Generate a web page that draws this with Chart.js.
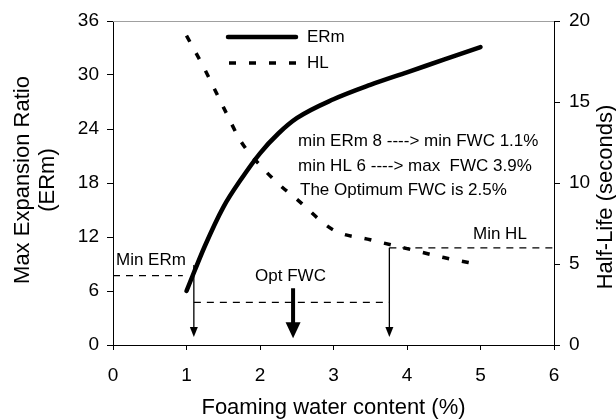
<!DOCTYPE html>
<html>
<head>
<meta charset="utf-8">
<script src="https://cdn.jsdelivr.net/npm/chart.js@4/dist/chart.umd.min.js"></script>
<style>
body { margin: 0; background: #fff; }
</style>
</head>
<body>
<canvas id="myChart" width="616" height="420"></canvas>
<script>
// data
var fwc = [1, 1.25, 1.5, 1.75, 2, 2.25, 2.5, 3, 3.5, 4, 4.5, 5];
var ermValues = [6, 11, 15.3, 18.5, 21.3, 23.5, 25.2, 27.3, 28.9, 30.3, 31.7, 33.1];
var hlValues = [19.1, 17.0, 14.7, 12.5, 11.1, 9.95, 9.0, 7.1, 6.5, 5.95, 5.4, 4.95];

var xTicks = [0, 1, 2, 3, 4, 5, 6];
var ermTicks = [0, 6, 12, 18, 24, 30, 36];
var hlTicks = [0, 5, 10, 15, 20];

// guide lines / arrows
var minErm = 7.7, minErmSpan = [0, 0.95];
var optLevel = 4.74, optSpan = [1.1, 3.76];
var minHl = 6, minHlSpan = [3.76, 6];
var minFwc = 1.1, maxFwc = 3.76, optFwc = 2.45;

var notes = ['min ERm 8 ----> min FWC 1.1%', 'min HL 6 ----> max  FWC 3.9%', 'The Optimum FWC is 2.5%'];

var FONT = '"Liberation Sans", Arial, sans-serif';

function pts(xs, ys) {
    return xs.map(function (x, i) { return { x: x, y: ys[i] }; });
}

function guide(data, axis, width, dash) {
    return {
        data: data, yAxisID: axis, showLine: true, pointRadius: 0,
        borderColor: '#000', backgroundColor: '#000', borderWidth: width,
        borderDash: dash || [], tension: 0
    };
}

function arrowHead(c, x, y, w, h) {
    c.beginPath();
    c.moveTo(x, y);
    c.lineTo(x - w / 2, y - h);
    c.lineTo(x + w / 2, y - h);
    c.closePath();
    c.fill();
}

var extras = {
    id: 'extras',
    afterDatasetsDraw: function (chart) {
        var c = chart.ctx, sx = chart.scales.x, sy = chart.scales.y, sy1 = chart.scales.y1;
        var a = chart.chartArea;
        c.save();
        // grey top frame
        c.strokeStyle = '#a0a0a0';
        c.lineWidth = 1;
        c.beginPath();
        c.moveTo(a.left, a.top + 0.5);
        c.lineTo(a.right, a.top + 0.5);
        c.stroke();

        c.fillStyle = '#000';
        c.strokeStyle = '#000';
        arrowHead(c, sx.getPixelForValue(minFwc), sy.getPixelForValue(0.9), 8, 10);
        arrowHead(c, sx.getPixelForValue(maxFwc), sy.getPixelForValue(0.9), 8, 10);
        arrowHead(c, sx.getPixelForValue(optFwc), sy.getPixelForValue(0.75), 15, 16);

        c.font = '17px ' + FONT;
        c.textBaseline = 'middle';
        c.textAlign = 'left';
        c.fillText('Min ERm', a.left + 3, sy.getPixelForValue(minErm) - 15);
        c.fillText('Opt FWC', sx.getPixelForValue(optFwc) - 38, sy.getPixelForValue(optLevel) - 26);
        c.fillText('Min HL', a.right - 81, sy1.getPixelForValue(minHl) - 13);
        c.fillText(notes[0], 298, 141);
        c.fillText(notes[1], 298, 166);
        c.fillText(notes[2], 300, 190);

        // legend
        c.lineWidth = 4.5;
        c.lineCap = 'round';
        c.beginPath();
        c.moveTo(228, 37);
        c.lineTo(296, 37);
        c.stroke();
        c.lineCap = 'butt';
        c.lineWidth = 3.5;
        c.setLineDash([7, 13]);
        c.beginPath();
        c.moveTo(229, 63);
        c.lineTo(300, 63);
        c.stroke();
        c.setLineDash([]);
        c.fillText('ERm', 307, 37);
        c.fillText('HL', 307, 63);

        // axis titles
        c.font = '22px ' + FONT;
        c.textAlign = 'center';
        c.fillText('Foaming water content (%)', (a.left + a.right) / 2, 408);
        c.save();
        c.translate(23, 180);
        c.rotate(-Math.PI / 2);
        c.fillText('Max Expansion Ratio', 0, 0);
        c.fillText('(ERm)', 0, 25);
        c.restore();
        c.save();
        c.translate(606, 197);
        c.rotate(-Math.PI / 2);
        c.fillText('Half-Life (seconds)', 0, 0);
        c.restore();
        c.restore();
    }
};

function fixTicks(list) {
    return function (scale) {
        scale.ticks = list.map(function (v) { return { value: v }; });
    };
}

var tickFont = { family: FONT, size: 19 };

var ctx = document.getElementById('myChart').getContext('2d');
var chart = new Chart(ctx, {
    type: 'scatter',
    data: {
        datasets: [{
            label: 'ERm',
            data: pts(fwc, ermValues),
            yAxisID: 'y',
            showLine: true,
            pointRadius: 0,
            borderColor: '#000',
            backgroundColor: '#000',
            borderWidth: 4.5,
            borderCapStyle: 'round',
            cubicInterpolationMode: 'monotone'
        }, {
            label: 'HL',
            data: pts(fwc, hlValues),
            yAxisID: 'y1',
            showLine: true,
            pointRadius: 0,
            borderColor: '#000',
            backgroundColor: '#000',
            borderWidth: 3.5,
            borderDash: [7, 13],
            cubicInterpolationMode: 'monotone'
        },
        guide(pts(minErmSpan, [minErm, minErm]), 'y', 1.2, [7, 6]),
        guide(pts(optSpan, [optLevel, optLevel]), 'y', 1.2, [7, 6]),
        guide(pts(minHlSpan, [minHl, minHl]), 'y1', 1.2, [7, 6]),
        guide(pts([minFwc, minFwc], [8.9, 2]), 'y', 1.3),
        guide(pts([maxFwc, maxFwc], [minHl, 1]), 'y1', 1.3),
        guide(pts([optFwc, optFwc], [6.3, 2]), 'y', 4)
        ]
    },
    options: {
        responsive: false,
        animation: false,
        layout: { padding: { top: 21, left: 0, right: 0, bottom: 0 } },
        plugins: {
            legend: { display: false },
            tooltip: { enabled: false }
        },
        scales: {
            x: {
                type: 'linear', min: 0, max: 6,
                afterBuildTicks: fixTicks(xTicks),
                afterFit: function (s) { s.height = 75; },
                ticks: { color: '#000', font: tickFont, padding: 14 },
                grid: { drawOnChartArea: false, color: '#000', tickLength: 5 },
                border: { color: '#000', width: 1 }
            },
            y: {
                position: 'left', min: 0, max: 36,
                afterBuildTicks: fixTicks(ermTicks),
                afterFit: function (s) { s.width = 113; },
                ticks: { color: '#000', font: tickFont, padding: 8 },
                grid: { drawOnChartArea: false, color: '#000', tickLength: 6 },
                border: { color: '#000', width: 1 }
            },
            y1: {
                position: 'right', min: 0, max: 20,
                afterBuildTicks: fixTicks(hlTicks),
                afterFit: function (s) { s.width = 62; },
                ticks: { color: '#000', font: tickFont, padding: 9 },
                grid: { drawOnChartArea: false, color: '#000', tickLength: 6 },
                border: { color: '#000', width: 1 }
            }
        }
    },
    plugins: [extras]
});
</script>
</body>
</html>
